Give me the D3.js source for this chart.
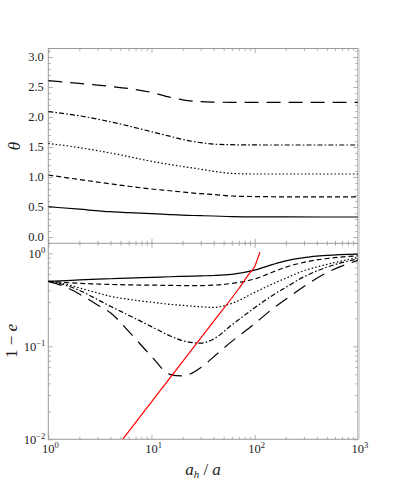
<!DOCTYPE html>
<html>
<head>
<meta charset="utf-8">
<script src="https://cdn.jsdelivr.net/npm/d3@7"></script>
<style>
  body { margin: 0; background: #fff; }
  svg text { font-family: "Times New Roman", "Liberation Serif", "DejaVu Serif", serif; fill: #222; }
</style>
</head>
<body>
<script>
'use strict';

// top panel: theta vs a_h/a
const xTop = [1, 2, 4, 6, 10, 15, 20, 30, 40, 60, 100, 200, 1000];
const theta1 = [0.505, 0.463, 0.422, 0.407, 0.388, 0.374, 0.364, 0.356, 0.35, 0.34, 0.336, 0.334, 0.333];
const theta2 = [1.033, 0.958, 0.886, 0.846, 0.80, 0.771, 0.75, 0.722, 0.708, 0.683, 0.674, 0.67, 0.67];
const theta3 = [1.56, 1.49, 1.40, 1.34, 1.26, 1.21, 1.175, 1.13, 1.095, 1.06, 1.05, 1.05, 1.05];
const theta4 = [2.09, 2.02, 1.92, 1.85, 1.755, 1.68, 1.627, 1.572, 1.548, 1.538, 1.534, 1.533, 1.533];
const theta5 = [2.605, 2.56, 2.51, 2.475, 2.41, 2.33, 2.285, 2.255, 2.248, 2.245, 2.245, 2.245, 2.245];

// bottom panel: 1 - e vs a_h/a
const xBot = [1, 1.5, 2, 3, 4, 6, 10, 15, 20, 30, 40, 60, 100, 150, 200, 300, 500, 1000];
const ecc1 = [0.5, 0.51, 0.518, 0.527, 0.533, 0.542, 0.552, 0.56, 0.566, 0.573, 0.578, 0.595, 0.66, 0.76, 0.83, 0.9, 0.95, 0.98];
const ecc2 = [0.5, 0.485, 0.476, 0.468, 0.463, 0.458, 0.455, 0.452, 0.45, 0.45, 0.455, 0.475, 0.53, 0.63, 0.71, 0.8, 0.88, 0.94];
const ecc3 = [0.5, 0.465, 0.425, 0.375, 0.345, 0.32, 0.298, 0.283, 0.276, 0.266, 0.262, 0.29, 0.38, 0.47, 0.54, 0.65, 0.76, 0.9];
const ecc4 = [0.5, 0.45, 0.4, 0.318, 0.27, 0.216, 0.163, 0.13, 0.115, 0.108, 0.12, 0.17, 0.26, 0.355, 0.43, 0.56, 0.71, 0.87];
const ecc5 = [0.5, 0.43, 0.365, 0.279, 0.23, 0.145, 0.078, 0.05, 0.048, 0.059, 0.077, 0.113, 0.175, 0.255, 0.32, 0.44, 0.62, 0.84];

const redX = [5.26, 10, 20, 40, 70, 90, 100, 105, 110, 112.5];
const redY = [0.01, 0.0252, 0.0684, 0.186, 0.416, 0.62, 0.72, 0.83, 0.96, 1.03];

const thetaTicks = [0, 0.5, 1, 1.5, 2, 2.5, 3];
const thetaLabels = ["0.0", "0.5", "1.0", "1.5", "2.0", "2.5", "3.0"];
const xDecades = [1, 10, 100, 1000];
const xExps = ["0", "1", "2", "3"];
const eDecades = [0.01, 0.1, 1];
const eExps = ["\u22122", "\u22121", "0"];

const dashes = [null, "5,3", "1.5,2.2", "5,2.2,1.5,2.2", "14,8"];

(function() {
  const W = 407, H = 488;
  const left = 48.3, right = 357.9;
  const top = 48.5, mid = 243.3, bottom = 439.3;
  const frameColor = "#9a9a9a";
  const serif = '"Times New Roman", "Liberation Serif", "DejaVu Serif", serif';

  const svg = d3.select('body').append('svg')
    .attr('width', W)
    .attr('height', H)
    .attr('font-family', serif);

  const x = d3.scaleLog().domain([1, 1000]).range([left, right]);
  const yTop = d3.scaleLinear().domain([-0.105, Math.PI]).range([mid, top]);
  const yBot = d3.scaleLog().domain([0.01, Math.pow(10, 0.108)]).range([bottom, mid]);

  let minorX = x.ticks().filter(d => xDecades.indexOf(d) < 0);
  let minorTheta = d3.range(-0.1, 3.15, 0.1).map(d => +d.toFixed(1))
    .filter(d => thetaTicks.indexOf(d) < 0);
  let minorE = yBot.ticks().filter(d => eDecades.indexOf(d) < 0 && d <= 1.28);

  // ticks, all pointing inwards
  function tickSet(axisFn, scale, values, size, transform) {
    let g = svg.append('g')
      .attr('transform', transform)
      .call(axisFn(scale).tickValues(values).tickSize(-size).tickFormat(''));
    g.select('.domain').remove();
    g.selectAll('line').attr('stroke', frameColor).attr('stroke-width', 0.8);
  }

  [[d3.axisTop, top], [d3.axisBottom, mid], [d3.axisTop, mid], [d3.axisBottom, bottom]].forEach(p => {
    tickSet(p[0], x, xDecades, 4.5, `translate(0,${p[1]})`);
    tickSet(p[0], x, minorX, 2.5, `translate(0,${p[1]})`);
  });
  [[d3.axisLeft, left], [d3.axisRight, right]].forEach(p => {
    tickSet(p[0], yTop, thetaTicks, 4.5, `translate(${p[1]},0)`);
    tickSet(p[0], yTop, minorTheta, 2.5, `translate(${p[1]},0)`);
    tickSet(p[0], yBot, eDecades, 4.5, `translate(${p[1]},0)`);
    tickSet(p[0], yBot, minorE, 2.5, `translate(${p[1]},0)`);
  });

  // frames
  svg.append('rect')
    .attr('x', left).attr('y', top)
    .attr('width', right - left).attr('height', bottom - top)
    .attr('fill', 'none').attr('stroke', frameColor).attr('stroke-width', 1);
  svg.append('line')
    .attr('x1', left).attr('x2', right).attr('y1', mid).attr('y2', mid)
    .attr('stroke', frameColor).attr('stroke-width', 1);
  svg.append('line')
    .attr('x1', right + 1).attr('x2', right + 1).attr('y1', top).attr('y2', bottom)
    .attr('stroke', '#d8d8d8').attr('stroke-width', 2);

  // clip paths
  let defs = svg.append('defs');
  defs.append('clipPath').attr('id', 'clipTop').append('rect')
    .attr('x', left).attr('y', top).attr('width', right - left).attr('height', mid - top);
  defs.append('clipPath').attr('id', 'clipBot').append('rect')
    .attr('x', left).attr('y', mid).attr('width', right - left).attr('height', bottom - mid);

  // curves
  let lineTop = d3.line()
    .x(d => x(d[0]))
    .y(d => yTop(d[1]))
    .curve(d3.curveMonotoneX);
  let lineBot = d3.line()
    .x(d => x(d[0]))
    .y(d => yBot(d[1]))
    .curve(d3.curveMonotoneX);

  [theta1, theta2, theta3, theta4, theta5].forEach((ys, i) => {
    svg.append('path')
      .attr('clip-path', 'url(#clipTop)')
      .attr('d', lineTop(xTop.map((v, j) => [v, ys[j]])))
      .attr('fill', 'none')
      .attr('stroke', '#000')
      .attr('stroke-width', 1.2)
      .attr('stroke-dasharray', dashes[i]);
  });

  [ecc1, ecc2, ecc3, ecc4, ecc5].forEach((ys, i) => {
    svg.append('path')
      .attr('clip-path', 'url(#clipBot)')
      .attr('d', lineBot(xBot.map((v, j) => [v, ys[j]])))
      .attr('fill', 'none')
      .attr('stroke', '#000')
      .attr('stroke-width', 1.2)
      .attr('stroke-dasharray', dashes[i]);
  });

  svg.append('path')
    .attr('clip-path', 'url(#clipBot)')
    .attr('d', lineBot(redX.map((v, j) => [v, redY[j]])))
    .attr('fill', 'none')
    .attr('stroke', '#ff0000')
    .attr('stroke-width', 1.2);

  // tick labels
  svg.selectAll('.thetaLabel')
    .data(thetaTicks)
    .enter()
    .append('text')
      .attr('x', left - 4.5)
      .attr('y', d => yTop(d) + 4.3)
      .attr('text-anchor', 'end')
      .attr('font-size', 12.5)
      .text((d, i) => thetaLabels[i]);

  function powerLabel(sel) {
    sel.append('tspan').text('10');
    sel.append('tspan')
      .attr('dy', -5)
      .attr('font-size', 8.5)
      .text(d => d.exp);
  }

  svg.selectAll('.eLabel')
    .data(eDecades.map((v, i) => ({ v: v, exp: eExps[i] })))
    .enter()
    .append('text')
      .attr('x', left - 3)
      .attr('y', d => yBot(d.v) + 4.5)
      .attr('text-anchor', 'end')
      .attr('font-size', 12.5)
      .call(powerLabel);

  svg.selectAll('.xLabel')
    .data(xDecades.map((v, i) => ({ v: v, exp: xExps[i] })))
    .enter()
    .append('text')
      .attr('x', d => x(d.v) + 2)
      .attr('y', 453)
      .attr('text-anchor', 'middle')
      .attr('font-size', 12.5)
      .call(powerLabel);

  // axis titles
  svg.append('text')
    .attr('transform', 'translate(20,146)rotate(-90)')
    .attr('text-anchor', 'middle')
    .attr('font-size', 17)
    .attr('font-style', 'italic')
    .text('\u03b8');

  let eTitle = svg.append('text')
    .attr('transform', 'translate(17,341)rotate(-90)')
    .attr('text-anchor', 'middle')
    .attr('font-size', 17);
  eTitle.append('tspan').text('1 \u2212 ');
  eTitle.append('tspan').attr('font-style', 'italic').text('e');

  let xTitle = svg.append('text')
    .attr('x', 203)
    .attr('y', 475)
    .attr('text-anchor', 'middle')
    .attr('font-size', 17)
    .attr('font-style', 'italic');
  xTitle.append('tspan').text('a');
  xTitle.append('tspan').attr('dy', 3).attr('font-size', 11).text('h');
  xTitle.append('tspan').attr('dy', -3).attr('font-style', 'normal').text(' / ');
  xTitle.append('tspan').text('a');
})();
</script>
</body>
</html>
